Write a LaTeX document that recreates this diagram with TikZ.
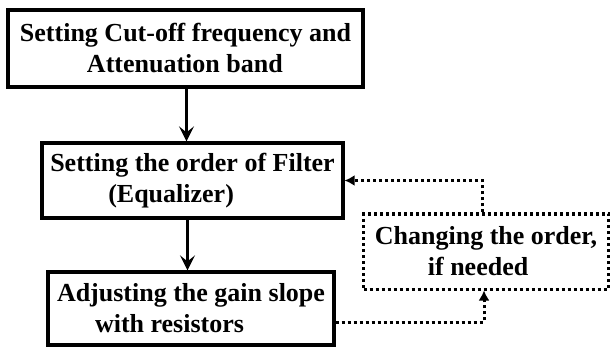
\documentclass[tikz,border=0pt]{standalone}
\usepackage{fontspec}
\setmainfont{Liberation Serif}
\usetikzlibrary{arrows.meta}

\begin{document}
\begin{tikzpicture}[x=1pt, y=-1pt,
    font=\bfseries\fontsize{26}{31}\selectfont,
    stepbox/.style={draw, line width=3.2pt, align=left, inner sep=0pt},
    optbox/.style={draw, line width=3pt, dash pattern=on 3pt off 3pt,
        align=left, inner sep=0pt},
    flow/.style={line width=3.2pt, -{Stealth[length=15pt, width=15pt, inset=6pt]}},
    loop/.style={line width=3pt, dash pattern=on 3pt off 3pt,
        -{Latex[length=10pt, width=11pt]}}]

    % Frame of the picture
    \useasboundingbox (0,0) rectangle (612,347);

    % Main steps
    \node[stepbox, minimum width=355pt, minimum height=77pt] (cutoff) at (185.5,48.5)
        {Setting Cut-off frequency and\\\hspace*{67pt}Attenuation band};
    \node[stepbox, minimum width=301pt, minimum height=75pt] (order) at (192.5,180.5)
        {Setting the order of Filter\\\hspace*{58pt}(Equalizer)};
    \node[stepbox, minimum width=286pt, minimum height=73pt] (gain) at (191,308.5)
        {Adjusting the gain slope\\\hspace*{38pt}with resistors};

    % Optional step
    \node[optbox, minimum width=245pt, minimum height=75pt] (change) at (486,251.5)
        {Changing the order,\\\hspace*{53pt}if needed};

    % Forward arrows
    \draw[flow] ([xshift=1pt]cutoff.south) -- ([xshift=1pt]cutoff.south |- order.north);
    \draw[flow] ([xshift=-5pt]order.south) -- ([xshift=-5pt]order.south |- gain.north);

    % Feedback path
    \draw[loop] ([yshift=-13.5pt]gain.east) -| ([xshift=-2pt]change.south);
    \draw[loop] ([xshift=-4pt]change.north) |- (order.east);

\end{tikzpicture}
\end{document}
